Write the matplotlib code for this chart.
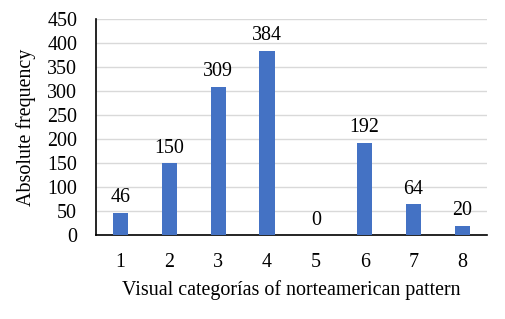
import matplotlib
matplotlib.use("Agg")
import matplotlib.pyplot as plt

categories = ["1", "2", "3", "4", "5", "6", "7", "8"]
frequency = [46, 150, 309, 384, 0, 192, 64, 20]

BLUE = "#4472C4"
FS = 14.4

plt.rcParams["font.family"] = ["Liberation Serif", "DejaVu Serif"]

fig = plt.figure(figsize=(5.05, 3.19), dpi=100)
ax = fig.add_axes([0.190, 0.263, 0.774, 0.677])

x = range(len(categories))
ax.bar(x, frequency, width=0.31, color=BLUE, zorder=3)
for xi, v in zip(x, frequency):
    ax.annotate(str(v), xy=(xi, v), xytext=(0, 4), textcoords="offset points",
                ha="center", va="bottom", fontsize=FS)

ax.set_xlim(-0.5, len(categories) - 0.5)
ax.set_ylim(0, 450)
ax.set_yticks(range(0, 451, 50))
ax.set_xticks(list(x))
ax.set_xticklabels(categories)
ax.yaxis.grid(True, color="#d9d9d9", lw=1.0, zorder=0)
ax.tick_params(axis="both", length=0, labelsize=FS)
ax.tick_params(axis="x", pad=13)
ax.tick_params(axis="y", pad=13.5)
for s in ["top", "right"]:
    ax.spines[s].set_visible(False)
ax.spines["left"].set_linewidth(1.2)
ax.spines["bottom"].set_linewidth(1.2)
ax.set_xlabel("Visual categorías of norteamerican pattern", fontsize=FS, labelpad=6)
ax.set_ylabel("Absolute frequency", fontsize=FS, labelpad=8)

fig.savefig("out.png", dpi=100)
